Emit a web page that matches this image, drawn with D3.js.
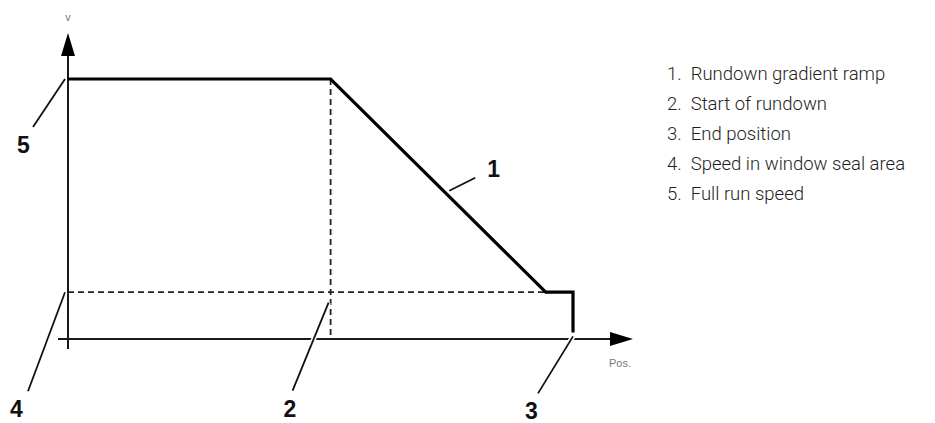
<!DOCTYPE html>
<html>
<head>
<meta charset="utf-8">
<script src="https://cdn.jsdelivr.net/npm/d3@7"></script>
<style>
  body { margin: 0; background: #fff; }
  svg { display: block; }
  .legend text { font-family: Roboto, 'Liberation Sans', sans-serif; font-weight: 300; font-size: 18.5px; fill: #1e1e1e; }
  .callout { font-family: 'Liberation Sans', Arial, sans-serif; font-weight: bold; font-size: 23px; fill: #111; }
  .axis-label { font-family: 'Liberation Sans', Arial, sans-serif; font-size: 11px; fill: #777; }
</style>
</head>
<body>
<div id="chart"></div>
<script>
// speed profile (position in % of travel, speed in % of full speed)
const profilePos = [0, 52, 94.6, 100, 100];
const profileSpeed = [100, 100, 18, 18, 2.5];

// reference lines
const sealSpeed = 18;
const rundownStart = 52;

// callout numbers and where they point
const calloutLabels = ['1', '2', '3', '4', '5'];
const calloutPos = [75.5, 51.6, 100, 0, 0];
const calloutSpeed = [57, 14, 1, 18, 100];

const legendItems = [
  '1.  Rundown gradient ramp',
  '2.  Start of rundown',
  '3.  End position',
  '4.  Speed in window seal area',
  '5.  Full run speed'
];

const width = 935;
const height = 423;

const marginLeft = 68;
const marginTop = 79;

const scaleX = d3.scaleLinear().domain([0, 100]).range([marginLeft, 573]);
const scaleY = d3.scaleLinear().domain([0, 100]).range([339, marginTop]);

const $svg = d3.select('#chart').append('svg')
  .attr('width', width)
  .attr('height', height);

const axisColor = '#1a1a1a';
const x0 = scaleX(0);
const y0 = scaleY(0);

// dashed guides
const $guides = $svg.append('g').attr('class', 'g-guides')
  .attr('stroke', '#222')
  .attr('stroke-width', 1.8)
  .attr('stroke-dasharray', '6,4');

$guides.append('line')
  .attr('x1', x0).attr('x2', scaleX(94.6))
  .attr('y1', scaleY(sealSpeed)).attr('y2', scaleY(sealSpeed));

$guides.append('line')
  .attr('x1', scaleX(rundownStart)).attr('x2', scaleX(rundownStart))
  .attr('y1', scaleY(100)).attr('y2', y0);

// axes with arrows
const $axis = $svg.append('g').attr('class', 'g-axis');

$axis.append('line')
  .attr('x1', x0).attr('x2', x0)
  .attr('y1', y0 + 10).attr('y2', 50)
  .attr('stroke', axisColor).attr('stroke-width', 2);

$axis.append('line')
  .attr('x1', x0 - 10).attr('x2', 615)
  .attr('y1', y0).attr('y2', y0)
  .attr('stroke', axisColor).attr('stroke-width', 2);

$axis.append('path')
  .attr('d', `M${x0},33 L${x0 - 7},56 L${x0 + 7},56 Z`)
  .attr('fill', '#000');

$axis.append('path')
  .attr('d', `M633,${y0} L610,${y0 - 7} L610,${y0 + 7} Z`)
  .attr('fill', '#000');

$axis.append('text')
  .attr('class', 'axis-label')
  .attr('x', x0).attr('y', 21)
  .attr('text-anchor', 'middle')
  .text('v');

$axis.append('text')
  .attr('class', 'axis-label')
  .attr('x', 609).attr('y', 367)
  .text('Pos.');

// profile line
const line = d3.line()
  .x((d, i) => scaleX(profilePos[i]))
  .y((d, i) => scaleY(profileSpeed[i]));

$svg.append('path')
  .datum(profilePos)
  .attr('d', line)
  .attr('fill', 'none')
  .attr('stroke', '#000')
  .attr('stroke-width', 3.2)
  .attr('stroke-linejoin', 'miter');

// callouts: leader offset from the anchor, then text offset from the leader end
const leaderOffsets = [[26, -13], [-36, 88], [-35, 57], [-37, 99], [-32, 48]];
const textOffsets = [[12, -1], [-9, 26], [-13, 26], [-18, 26], [-16, 26]];

const $callouts = $svg.append('g').attr('class', 'g-callouts');

calloutLabels.forEach((label, i) => {
  const ax = scaleX(calloutPos[i]) - (calloutPos[i] === 0 ? 3 : 0);
  const ay = scaleY(calloutSpeed[i]);
  const bx = ax + leaderOffsets[i][0];
  const by = ay + leaderOffsets[i][1];

  // white halo so the leader breaks the lines it crosses
  $callouts.append('line')
    .attr('x1', ax).attr('y1', ay).attr('x2', bx).attr('y2', by)
    .attr('stroke', '#fff').attr('stroke-width', 5);
  $callouts.append('line')
    .attr('x1', ax).attr('y1', ay).attr('x2', bx).attr('y2', by)
    .attr('stroke', '#111').attr('stroke-width', 1.8);

  $callouts.append('text')
    .attr('class', 'callout')
    .attr('x', bx + textOffsets[i][0])
    .attr('y', by + textOffsets[i][1])
    .text(label);
});

// legend
const $legend = $svg.append('g').attr('class', 'legend')
  .attr('transform', 'translate(667, 80)');

$legend.selectAll('text')
  .data(legendItems)
  .enter()
  .append('text')
  .attr('x', 0)
  .attr('y', (d, i) => i * 30)
  .attr('xml:space', 'preserve')
  .style('white-space', 'pre')
  .text(d => d);
</script>
</body>
</html>
